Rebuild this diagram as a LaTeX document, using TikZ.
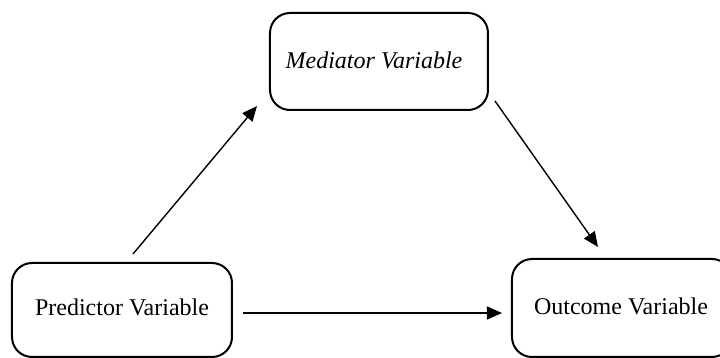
\documentclass[tikz,border=0pt]{standalone}
\usepackage{fontspec}
\setmainfont{Liberation Serif}
\usetikzlibrary{arrows.meta}
\begin{document}
\begin{tikzpicture}[x=0.5pt,y=-0.5pt,
  varbox/.style={draw=black,line width=1pt,rounded corners=10pt,
    minimum width=110pt,minimum height=47pt,inner sep=0pt,
    font=\fontsize{12}{14}\selectfont},
  arr/.style={draw=black,line width=0.7pt,
    -{Triangle[length=7.5pt,width=6.5pt]}}]
  \useasboundingbox (0,0) rectangle (720,358);
  \begin{scope}
    \clip (0,0) rectangle (720,358);
    % three variables; labels sit a little above the box centre
    \node[varbox,minimum width=109pt,minimum height=48.5pt] (med) at (379,61.5)
      {\raisebox{1.75pt}{\textit{Mediator Variable}}\kern5pt};
    \node[varbox] (pred) at (122,310) {\raisebox{2.5pt}{Predictor Variable}};
    \node[varbox,minimum height=49pt] (out) at (622,308) {\raisebox{1.5pt}{Outcome Variable}\kern1pt};
  \end{scope}
  % paths
  \draw[arr] ([xshift=5.5pt,yshift=4pt]pred.north) -- ([xshift=-6pt,yshift=2.5pt]med.south west);
  \draw[arr] ([xshift=3pt,yshift=5pt]med.south east) -- ([xshift=-12pt,yshift=5.5pt]out.north);
  \draw[arr] ([xshift=5pt,yshift=-1.5pt]pred.east) -- ([xshift=-4.5pt,yshift=-1.5pt]pred.east -| out.west);
\end{tikzpicture}
\end{document}
